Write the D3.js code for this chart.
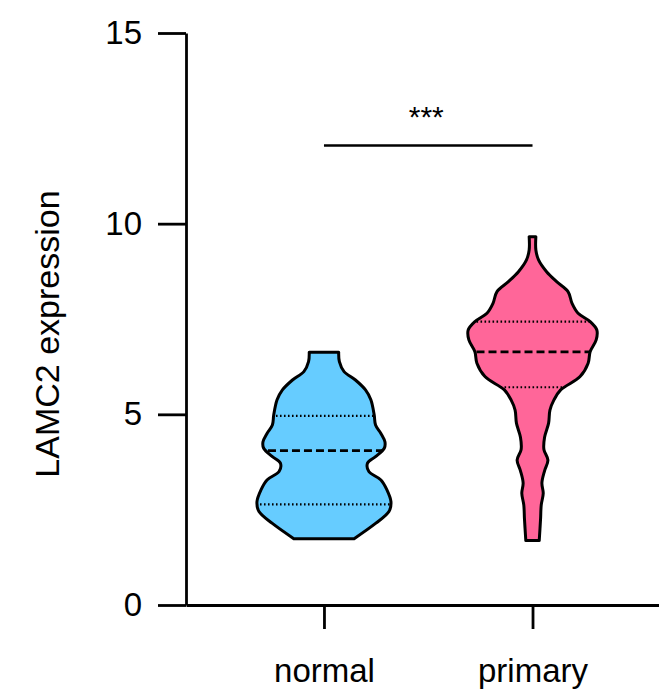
<!DOCTYPE html>
<html>
<head>
<meta charset="utf-8">
<script src="https://cdn.jsdelivr.net/npm/d3@7"></script>
<style>
  html, body { margin: 0; padding: 0; background: #fff; }
  svg { display: block; }
  text { font-family: Arial, "Liberation Sans", sans-serif; fill: #000; }
</style>
</head>
<body>
<svg id="chart" width="659" height="693"></svg>
<script>
// ---- data ----
const categories = ["normal", "primary"];
const yTicks = [0, 5, 10, 15];
const yLabel = "LAMC2 expression";
const sigLabel = "***";
const sigLevel = 12.05;

// density profiles (expression value, relative density)
const normalValues  = [6.63, 6.38, 6.12, 5.90, 5.64, 5.38, 4.98, 4.72, 4.50, 4.28, 4.11, 3.89, 3.72, 3.50, 3.28, 3.02, 2.71, 2.45, 2.14, 1.74];
const normalDensity = [0.22, 0.23, 0.30, 0.47, 0.62, 0.70, 0.75, 0.77, 0.85, 0.91, 0.90, 0.77, 0.65, 0.67, 0.85, 0.94, 1.00, 0.97, 0.77, 0.45];
const primaryValues  = [9.66, 9.31, 9.05, 8.74, 8.48, 8.22, 7.91, 7.65, 7.43, 7.21, 6.95, 6.64, 6.34, 5.99, 5.64, 5.38, 5.11, 4.77, 4.40, 4.08, 3.80, 3.52, 3.20, 2.93, 2.62, 2.25, 1.69];
const primaryDensity = [0.05, 0.05, 0.09, 0.21, 0.36, 0.53, 0.59, 0.68, 0.86, 0.96, 0.95, 0.86, 0.83, 0.71, 0.42, 0.32, 0.26, 0.24, 0.18, 0.17, 0.23, 0.18, 0.14, 0.16, 0.13, 0.12, 0.10];

// quartiles [Q1, median, Q3]
const normalQuartiles  = [2.64, 4.05, 4.96];
const primaryQuartiles = [5.71, 6.64, 7.43];

const colors = ["#66CCFF", "#FF6699"];

// ---- chart ----
const svg = d3.select("#chart");
const y = d3.scaleLinear().domain([0, 15]).range([605, 33]);
const x = d3.scalePoint().domain(categories).range([186, 659]).padding(0.634).align(0.5217);
const w = d3.scaleLinear().domain([0, 1]).range([0, 67]);

const groups = [
  { name: "normal",  values: normalValues,  density: normalDensity,  q: normalQuartiles,  color: colors[0] },
  { name: "primary", values: primaryValues, density: primaryDensity, q: primaryQuartiles, color: colors[1] }
];

const defs = svg.append("defs");

groups.forEach((g, gi) => {
  const cx = x(g.name);
  const pts = g.values.map((v, i) => ({ v, d: g.density[i] }));
  const area = d3.area()
    .y(p => y(p.v))
    .x0(p => cx - w(p.d))
    .x1(p => cx + w(p.d))
    .curve(d3.curveCatmullRom.alpha(0.5));
  const dPath = area(pts);

  defs.append("clipPath").attr("id", "clip" + gi)
    .append("path").attr("d", dPath);

  svg.append("path").attr("d", dPath).attr("fill", g.color).attr("stroke", "none");

  const lg = svg.append("g").attr("clip-path", `url(#clip${gi})`);
  g.q.forEach((qv, qi) => {
    lg.append("line")
      .attr("x1", cx - 80).attr("x2", cx + 80)
      .attr("y1", y(qv)).attr("y2", y(qv))
      .attr("stroke", "#000")
      .attr("stroke-width", qi === 1 ? 2.8 : 2.1)
      .attr("stroke-dasharray", qi === 1 ? "8,4" : "1.6,2.4");
  });

  svg.append("path").attr("d", dPath).attr("fill", "none")
    .attr("stroke", "#000").attr("stroke-width", 3).attr("stroke-linejoin", "round");
});

// y axis
const yAxis = svg.append("g").attr("transform", "translate(186,0)")
  .call(d3.axisLeft(y).tickValues(yTicks).tickSize(28).tickSizeOuter(0).tickPadding(16));
yAxis.selectAll("text").style("font-size", "33px").attr("font-family", null);
yAxis.selectAll("line, path").attr("stroke", "#000").attr("stroke-width", 2.8);

// x axis
const xAxis = svg.append("g").attr("transform", "translate(0,605)")
  .call(d3.axisBottom(x).tickSize(24).tickSizeOuter(0).tickPadding(30));
xAxis.selectAll("text").style("font-size", "33px").attr("font-family", null);
xAxis.selectAll("line, path").attr("stroke", "#000").attr("stroke-width", 2.8);

// y label
svg.append("text")
  .attr("transform", `translate(59,${(y(0) + y(15)) / 2 + 15}) rotate(-90)`)
  .attr("text-anchor", "middle")
  .style("font-size", "34px")
  .text(yLabel);

// significance bracket
svg.append("line")
  .attr("x1", x("normal")).attr("x2", x("primary"))
  .attr("y1", y(sigLevel)).attr("y2", y(sigLevel))
  .attr("stroke", "#000").attr("stroke-width", 2.6);
svg.append("text")
  .attr("x", (x("normal") + x("primary")) / 2 - 2)
  .attr("y", y(sigLevel) - 18)
  .attr("text-anchor", "middle")
  .style("font-size", "30px")
  .text(sigLabel);
</script>
</body>
</html>
